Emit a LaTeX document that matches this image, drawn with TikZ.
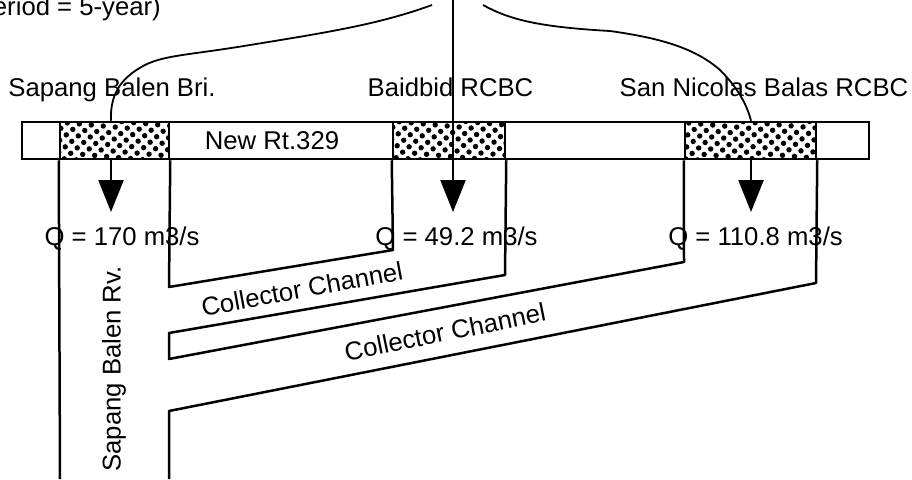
\documentclass[tikz,border=0pt]{standalone}
\usepackage{xcolor}
\usepackage{fontspec}
\setmainfont{Liberation Sans}
\usetikzlibrary{arrows.meta,patterns.meta}

\begin{document}
\begin{tikzpicture}[
  x=1pt,y=-1pt,
  every node/.style={font=\fontsize{25.7}{30}\selectfont,inner sep=0pt},
  road/.style={draw,line width=1.5pt,minimum width=847pt,minimum height=37pt},
  bridge/.style={draw,line width=2.5pt,minimum height=37pt,pattern={Dots[radius=2.7pt,distance=8.5pt,angle=40]}},
  wall/.style={line width=2.5pt,line join=round},
  flow/.style={line width=2.5pt,-{Triangle[length=32pt,width=25pt]}},
  lead/.style={line width=1.8pt}
]
\useasboundingbox (0,0) rectangle (912,479);
\node[road] (road) at (445.5,140.5) {};
\node[bridge,minimum width=109pt] (sapang) at (114.5,140.5) {};
\node[bridge,minimum width=112pt] (baidbid) at (449,140.5) {};
\node[bridge,minimum width=131pt] (nicolas) at (750.5,140.5) {};
\node (period) [anchor=base east] at (161,15) {eriod = 5-year)};
\node (sapanglabel) [anchor=base] at (112,96) {Sapang Balen Bri.};
\node (baidbidlabel) [anchor=base] at (450.5,96) {Baidbid RCBC};
\node (nicolaslabel) [anchor=base] at (764,96) {San Nicolas Balas RCBC};
\node (roadlabel) [anchor=base] at (272,149) {New Rt.329};
\node (qone) [anchor=base] at (122,245) {Q = 170 m3/s};
\node (qtwo) [anchor=base] at (456.5,245) {Q = 49.2 m3/s};
\node (qthree) [anchor=base] at (755.5,245) {Q = 110.8 m3/s};
\node[rotate=90] (river) at (114,369) {Sapang Balen Rv.};
\node[rotate=10.5] (channelone) at (302,289) {Collector Channel};
\node[rotate=11.5] (channeltwo) at (445,332) {Collector Channel};
% lead lines from the top
\coordinate (topleft) at (432,5);
\coordinate (topmid) at (453,0);
\coordinate (topright) at (483,5);
\coordinate (tipone) at (111,212);
\coordinate (tiptwo) at (453,212);
\coordinate (tipthree) at (751,212);
\draw[lead] (topleft) .. controls (380,24) and (330,32) .. (250,45) .. controls (190,55) and (165,55) .. (145,65) .. controls (120,78) and (110,95) .. (sapang.north -| tipone);
\draw[lead] (topright) .. controls (510,20) and (540,27) .. (610,31) .. controls (660,38) and (695,48) .. (720,70) .. controls (738,88) and (747,105) .. (nicolas.north -| tipthree);
% arrows
\draw[flow] (sapang.south -| tipone) -- (tipone);
\draw[flow] (topmid) -- (tiptwo);
\draw[flow] (nicolas.south -| tipthree) -- (tipthree);
% river and channels
\coordinate (riverend) at (60,479);
\coordinate (bankend) at (169,479);
\coordinate (a) at (169,287);
\coordinate (b) at (393,250);
\coordinate (c) at (505,275);
\coordinate (d) at (169,333);
\coordinate (e) at (169,359);
\coordinate (f) at (684,262);
\coordinate (g) at (169,411);
\coordinate (h) at (816,283);
\draw[wall] (sapang.south west) -- (riverend);
\draw[wall] (sapang.south east) -- (a) -- (b) -- (baidbid.south west);
\draw[wall] (baidbid.south east) -- (c) -- (d) -- (e) -- (f) -- (nicolas.south west);
\draw[wall] (nicolas.south east) -- (h) -- (g) -- (bankend);
\end{tikzpicture}
\end{document}
